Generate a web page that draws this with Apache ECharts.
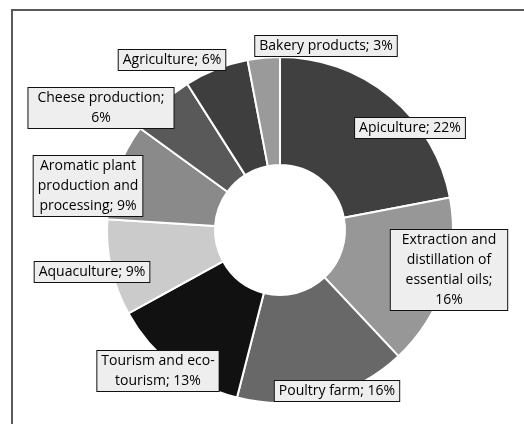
<!DOCTYPE html>
<html><head><meta charset="utf-8">
<script src="https://cdn.jsdelivr.net/npm/echarts@6/dist/echarts.min.js"></script>
<style>html,body{margin:0;padding:0;background:#fff}#c{width:524px;height:424px}</style>
</head><body><div id="c"></div>
<script>
const categories = ["Apiculture","Extraction and\ndistillation of\nessential oils;\n","Poultry farm","Tourism and eco-\ntourism","Aquaculture","Aromatic plant\nproduction and\nprocessing","Cheese production;\n","Agriculture","Bakery products"];
const values = [22,16,16,13,9,9,6,6,3];
const colors = ["#404040","#979797","#686868","#111111","#cbcbcb","#8a8a8a","#595959","#3e3e3e","#9a9a9a"];
const labelCenters = [[410,128],[449,270],[337,391],[158,371],[92,272],[88,186],[101,108],[172,60],[326,46]];
const labelPadX = [4,11,4,4,4,4,9,4,4];

const chart = echarts.init(document.getElementById('c'));
chart.setOption({
  animation:false,
  graphic:[{type:'rect',shape:{x:12,y:10,width:600,height:500},style:{fill:'none',stroke:'#5a5a5a',lineWidth:2},z:-1}],
  series:[{
    type:'pie',
    center:[280,230],
    radius:[65,173],
    startAngle:90,
    clockwise:true,
    avoidLabelOverlap:false,
    data: categories.map((c,i)=>({name:c,value:values[i],itemStyle:{color:colors[i]},label:{padding:[0,labelPadX[i]]}})),
    itemStyle:{borderColor:'#fff',borderWidth:2},
    label:{
      show:true,position:'inside',
      formatter:p=>{
        const n=p.name;
        if(n.endsWith(';\n')) return n+p.value+'%';
        return n+'; '+p.value+'%';
      },
      fontFamily:'Open Sans',fontSize:14,color:'#000',lineHeight:20,
      backgroundColor:'#eeeeee',borderColor:'#111',borderWidth:1,padding:[0,4],
      align:'center',verticalAlign:'middle'
    },
    labelLayout:p=>({x:labelCenters[p.dataIndex][0],y:labelCenters[p.dataIndex][1],hideOverlap:false}),
    labelLine:{show:false},
    emphasis:{disabled:true}
  }]
});
</script></body></html>
